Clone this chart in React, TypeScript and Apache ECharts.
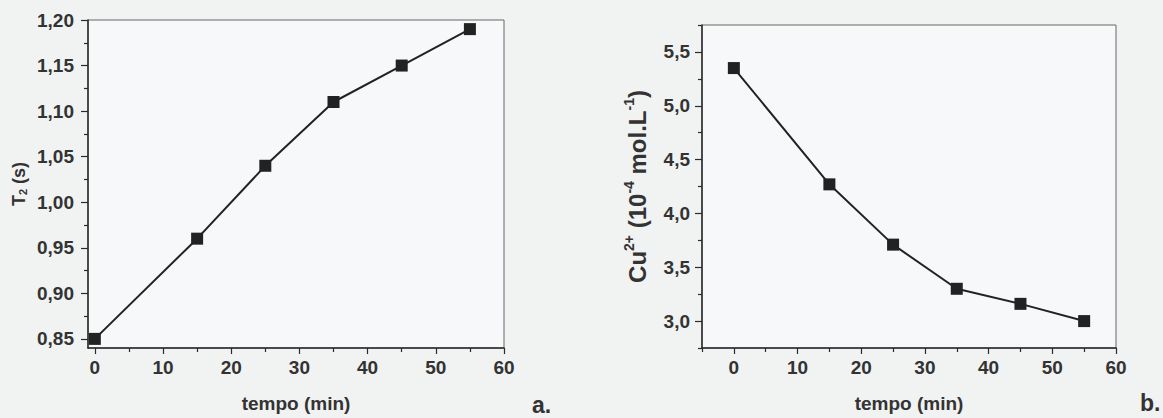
import React, { useEffect, useRef } from "react";
import * as echarts from "echarts";

const timeA = [0, 15, 25, 35, 45, 55];
const t2Values = [0.85, 0.96, 1.04, 1.11, 1.15, 1.19];
const timeB = [0, 15, 25, 35, 45, 55];
const cuValues = [5.35, 4.27, 3.71, 3.3, 3.16, 3.0];

const xTicksMajor = [0, 10, 20, 30, 40, 50, 60];
const xTicksMinorA = [5, 15, 25, 35, 45, 55];
const xTicksMinorB = [-5, 5, 15, 25, 35, 45, 55];
const yTicksA = [0.85, 0.9, 0.95, 1.0, 1.05, 1.1, 1.15, 1.2];
const yTicksMinorA = [0.875, 0.925, 0.975, 1.025, 1.075, 1.125, 1.175];
const yTicksB = [3.0, 3.5, 4.0, 4.5, 5.0, 5.5];
const yTicksMinorB = [2.75, 3.25, 3.75, 4.25, 4.75, 5.25, 5.75];

const FONT = "'Liberation Sans', Arial, sans-serif";
const DARK = "#2a2a2a";

export default function App() {
  const ref = useRef<HTMLDivElement>(null);
  useEffect(() => {
    document.body.style.margin = "0";
    const chart = echarts.init(ref.current!, null, { renderer: "svg" });
    const labelStyle = {
      fontFamily: FONT,
      fontWeight: "bold" as const,
      fontSize: 19,
      color: "#333",
    };
    const majorX = (gridIndex: number, min: number, name: string) => ({
      type: "value",
      gridIndex,
      min,
      max: 60,
      name,
      nameLocation: "middle",
      nameGap: 46,
      nameTextStyle: { ...labelStyle, fontSize: 19 },
      axisLine: { show: true, onZero: false, lineStyle: { color: DARK, width: 1.5 } },
      axisTick: { show: true, length: 6, inside: false, customValues: xTicksMajor, lineStyle: { color: DARK, width: 1.2 } },
      axisLabel: { ...labelStyle, margin: 10, customValues: xTicksMajor, formatter: (v: number) => String(v) },
      splitLine: { show: false },
    });
    const minorX = (gridIndex: number, min: number, ticks: number[]) => ({
      type: "value",
      gridIndex,
      min,
      max: 60,
      position: "bottom",
      axisLine: { show: false, onZero: false },
      axisTick: { show: true, length: 4, customValues: ticks, lineStyle: { color: DARK, width: 1.2 } },
      axisLabel: { show: false },
      splitLine: { show: false },
    });
    const majorY = (gridIndex: number, min: number, max: number, ticks: number[], digits: number, name: string, rich: any, nameGap: number, margin: number) => ({
      type: "value",
      gridIndex,
      min,
      max,
      name,
      nameLocation: "middle",
      nameGap,
      nameTextStyle: { rich },
      axisLine: { show: true, onZero: false, lineStyle: { color: DARK, width: 1.5 } },
      axisTick: { show: true, length: 7, customValues: ticks, lineStyle: { color: DARK, width: 1.2 } },
      axisLabel: {
        ...labelStyle,
        margin,
        customValues: ticks,
        formatter: (v: number) => v.toFixed(digits).replace(".", ","),
      },
      splitLine: { show: false },
    });
    const minorY = (gridIndex: number, min: number, max: number, ticks: number[]) => ({
      type: "value",
      gridIndex,
      min,
      max,
      position: "left",
      axisLine: { show: false, onZero: false },
      axisTick: { show: true, length: 4, customValues: ticks, lineStyle: { color: DARK, width: 1.2 } },
      axisLabel: { show: false },
      splitLine: { show: false },
    });

    const richA = {
      b: { fontFamily: FONT, fontWeight: "bold", fontSize: 18, color: "#333" },
      sub: { fontFamily: FONT, fontWeight: "bold", fontSize: 11, color: "#333", verticalAlign: "bottom", padding: [6, 0, 0, 0] },
    };
    const richB = {
      b: { fontFamily: FONT, fontWeight: "bold", fontSize: 24, color: "#333", lineHeight: 30 },
      s: { fontFamily: FONT, fontWeight: "bold", fontSize: 14, color: "#333", verticalAlign: "top", lineHeight: 15 },
    };

    const seriesStyle = {
      type: "line",
      symbol: "rect",
      symbolSize: 12,
      itemStyle: { color: "#222" },
      lineStyle: { color: "#222", width: 2 },
      z: 5,
    };

    chart.setOption({
      animation: false,
      backgroundColor: "#f1f2f2",
      grid: [
        { left: 88, top: 20, width: 416, height: 333, show: true, backgroundColor: "#f6f8f9", borderColor: "#666", borderWidth: 1 },
        { left: 702, top: 25, width: 414, height: 328, show: true, backgroundColor: "#f6f8f9", borderColor: "#666", borderWidth: 1 },
      ],
      xAxis: [
        majorX(0, -1, "tempo (min)"),
        majorX(1, -5, "tempo (min)"),
        minorX(0, -1, xTicksMinorA),
        minorX(1, -5, xTicksMinorB),
      ],
      yAxis: [
        majorY(0, 0.84, 1.2, yTicksA, 2, "{b|T}{sub|2}{b| (s)}", richA, 60, 14),
        majorY(1, 2.75, 5.75, yTicksB, 1, "{b|Cu}{s|2+}{b| (10}{s|-4}{b| mol.L}{s|-1}{b|)}", richB, 50, 12),
        minorY(0, 0.84, 1.2, yTicksMinorA),
        minorY(1, 2.75, 5.75, yTicksMinorB),
      ],
      series: [
        { ...seriesStyle, xAxisIndex: 0, yAxisIndex: 0, data: timeA.map((t, i) => [t, t2Values[i]]) },
        { ...seriesStyle, xAxisIndex: 1, yAxisIndex: 1, data: timeB.map((t, i) => [t, cuValues[i]]) },
      ],
      graphic: [
        { type: "text", left: 532, top: 393, style: { text: "a.", fontFamily: FONT, fontWeight: "bold", fontSize: 23, fill: "#333" } },
        { type: "text", left: 1140, top: 391, style: { text: "b.", fontFamily: FONT, fontWeight: "bold", fontSize: 23, fill: "#333" } },
      ],
    });
    return () => chart.dispose();
  }, []);
  return <div ref={ref} style={{ width: 1163, height: 418 }} />;
}
